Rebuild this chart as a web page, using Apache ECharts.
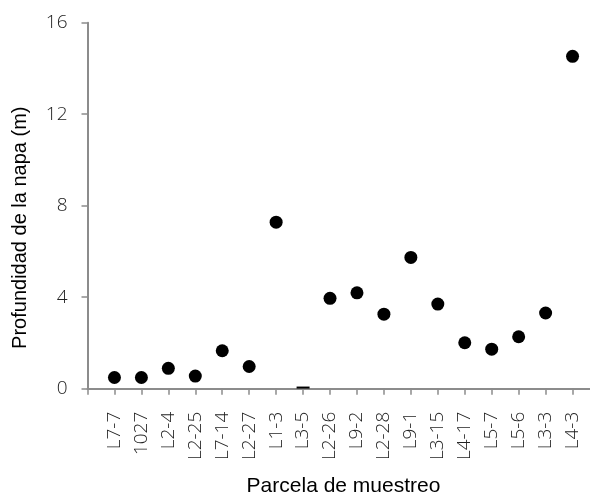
<!DOCTYPE html>
<html>
<head>
<meta charset="utf-8">
<script src="https://cdn.jsdelivr.net/npm/echarts@6/dist/echarts.min.js"></script>
<style>
  html, body { margin: 0; padding: 0; background: #fff; }
  #chart { width: 590px; height: 495px; }
</style>
</head>
<body>
<div id="chart"></div>
<script>
// Sampling plots along the x axis
const parcelas = ['L7-7', '1027', 'L2-4', 'L2-25', 'L7-14', 'L2-27', 'L1-3', 'L3-5', 'L2-26',
  'L9-2', 'L2-28', 'L9-1', 'L3-15', 'L4-17', 'L5-7', 'L5-6', 'L3-3', 'L4-3'];
// Water table depth (m) per plot
const profundidad = [0.49, 0.49, 0.89, 0.55, 1.66, 0.97, 7.28, 0.05, 3.95,
  4.19, 3.26, 5.74, 3.70, 2.01, 1.73, 2.27, 3.31, 14.53];
// Y axis ticks
const yTicks = [0, 4, 8, 12, 16];

const axisGray = '#8c8c8c';
const thinFont = "'Open Sans', 'Lato', 'DejaVu Sans', sans-serif";
const titleFont = "'Liberation Sans', Arial, sans-serif";

const chart = echarts.init(document.getElementById('chart'), null, { renderer: 'canvas' });

const points = parcelas.map((name, i) => {
  const item = { value: [i + 1, profundidad[i]], name };
  // L3-5 only shows as a flat dash near zero
  if (name === 'L3-5') {
    item.symbol = 'rect';
    item.symbolSize = [13, 2];
  }
  return item;
});

chart.setOption({
  animation: false,
  grid: {
    left: 87.5, right: -9.5, top: 22.7, bottom: 106.3,
    containLabel: false,
    outerBoundsMode: 'none'
  },
  xAxis: {
    type: 'value',
    min: 0,
    max: parcelas.length + 1,
    interval: 1,
    name: 'Parcela de muestreo',
    nameLocation: 'middle',
    nameGap: 87,
    nameTextStyle: { fontFamily: titleFont, fontSize: 21, color: '#000' },
    axisLine: { show: true, onZero: false, lineStyle: { color: axisGray, width: 2 } },
    axisTick: { show: true, length: 6, lineStyle: { color: axisGray, width: 1.5 } },
    splitLine: { show: false },
    axisLabel: {
      rotate: 90,
      margin: 23,
      fontFamily: thinFont,
      fontWeight: 300,
      fontSize: 19,
      color: '#222',
      showMinLabel: true,
      showMaxLabel: true,
      formatter: v => (v >= 1 && v <= parcelas.length) ? parcelas[v - 1] : ''
    }
  },
  yAxis: {
    type: 'value',
    min: yTicks[0],
    max: yTicks[yTicks.length - 1],
    interval: 4,
    name: 'Profundidad de la napa (m)',
    nameLocation: 'middle',
    nameGap: 57,
    nameTextStyle: { fontFamily: titleFont, fontSize: 20, color: '#000', padding: [0, 44, 0, 0] },
    axisLine: { show: true, lineStyle: { color: axisGray, width: 2 } },
    axisTick: { show: true, length: 6, lineStyle: { color: axisGray, width: 1.5 } },
    splitLine: { show: false },
    axisLabel: {
      margin: 20,
      fontFamily: thinFont,
      fontWeight: 300,
      fontSize: 19,
      color: '#222'
    }
  },
  series: [{
    type: 'scatter',
    data: points,
    symbol: 'circle',
    symbolSize: 13,
    itemStyle: { color: '#000', opacity: 1 }
  }]
});
</script>
</body>
</html>
